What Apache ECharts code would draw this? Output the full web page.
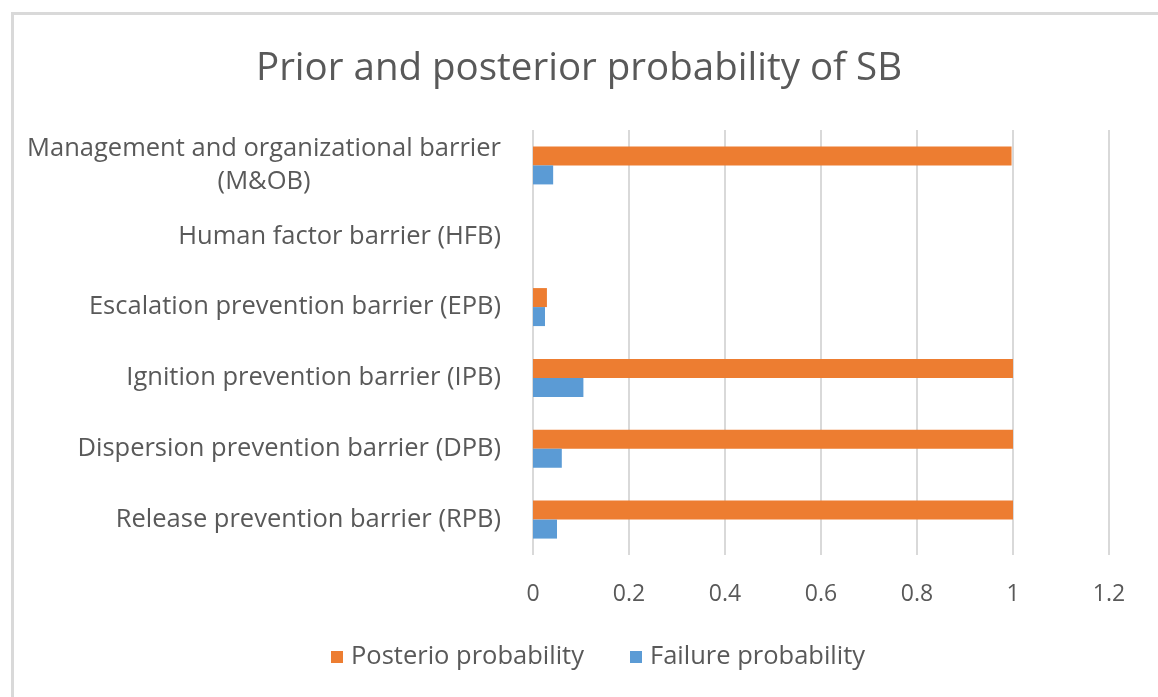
<!DOCTYPE html>
<html>
<head>
<meta charset="utf-8">
<title>Prior and posterior probability of SB</title>
<script src="https://cdn.jsdelivr.net/npm/echarts@6/dist/echarts.min.js"></script>
<style>
  html, body { margin: 0; padding: 0; background: #fff; }
  #chart { width: 1158px; height: 697px; }
</style>
</head>
<body>
<div id="chart"></div>
<script>
// Barrier categories, listed bottom to top
const categories = [
  'Release prevention barrier (RPB)',
  'Dispersion prevention barrier (DPB)',
  'Ignition prevention barrier (IPB)',
  'Escalation prevention barrier (EPB)',
  'Human factor barrier (HFB)',
  'Management and organizational barrier\n(M&OB)'
];
const posteriorProbability = [1.0, 1.0, 1.0, 0.029, 0, 0.997];
const failureProbability = [0.05, 0.06, 0.105, 0.025, 0, 0.042];
const xTicks = [0, 0.2, 0.4, 0.6, 0.8, 1, 1.2];

const textColor = '#595959';
const fontFamily = '"Open Sans", Lato, sans-serif';

const chart = echarts.init(document.getElementById('chart'), null, { renderer: 'canvas' });

chart.setOption({
  backgroundColor: '#ffffff',
  animation: false,
  graphic: [{
    type: 'rect',
    left: 10, top: 11,
    shape: { width: 1200, height: 720 },
    style: { fill: 'none', stroke: '#d9d9d9', lineWidth: 3 },
    silent: true
  }],
  title: {
    text: 'Prior and posterior probability of SB',
    left: 'center',
    top: 45,
    textStyle: { color: textColor, fontSize: 38.5, fontWeight: 'normal', fontFamily }
  },
  legend: {
    data: ['Posterio probability', 'Failure probability'],
    bottom: 22,
    left: 326,
    itemWidth: 12,
    itemHeight: 12,
    itemGap: 46,
    icon: 'rect',
    textStyle: { color: textColor, fontSize: 25.5, fontFamily, padding: [0, 0, 0, 3] }
  },
  grid: { left: 533, right: 49, top: 130, bottom: 142, containLabel: false },
  xAxis: {
    type: 'value',
    min: xTicks[0],
    max: xTicks[xTicks.length - 1],
    interval: 0.2,
    axisLine: { show: false },
    axisTick: { show: false },
    splitLine: { show: true, lineStyle: { color: '#d9d9d9', width: 2 } },
    axisLabel: {
      color: textColor, fontSize: 23, fontFamily, margin: 28,
      formatter: v => String(parseFloat(v.toFixed(1)))
    }
  },
  yAxis: {
    type: 'category',
    data: categories,
    axisLine: { show: false },
    axisTick: { show: false },
    splitLine: { show: false },
    axisLabel: {
      color: textColor, fontSize: 25.5, fontFamily, margin: 32, lineHeight: 33,
      formatter: v => v.indexOf('\n') >= 0
        ? v.split('\n').map(s => '{c|' + s + '}').join('\n')
        : v,
      rich: { c: { align: 'center', color: textColor, fontSize: 25.5, fontFamily, lineHeight: 33 } }
    }
  },
  series: [
    {
      name: 'Posterio probability',
      type: 'bar',
      data: posteriorProbability,
      barWidth: 19,
      barGap: '0%',
      itemStyle: { color: '#ED7D31' }
    },
    {
      name: 'Failure probability',
      type: 'bar',
      data: failureProbability,
      barWidth: 19,
      barGap: '0%',
      itemStyle: { color: '#5B9BD5' }
    }
  ]
});
</script>
</body>
</html>
